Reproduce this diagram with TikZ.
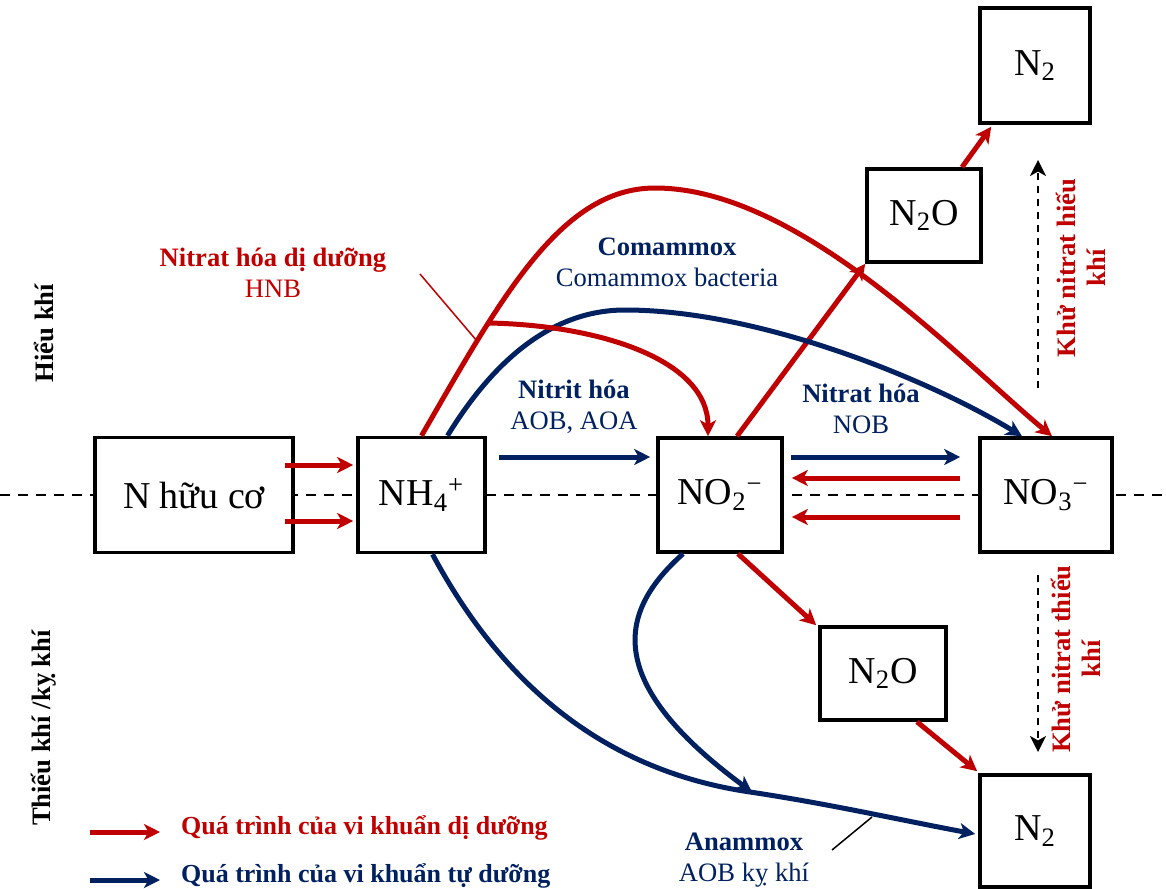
\documentclass[tikz,border=0pt]{standalone}
\usepackage{fontspec}
\setmainfont{Liberation Serif}
\usetikzlibrary{arrows.meta,calc}
\definecolor{hred}{HTML}{C00000}
\definecolor{hblue}{HTML}{002060}

\begin{document}
\begin{tikzpicture}[x=0.5pt,y=-0.5pt,>={Stealth[length=8pt,width=8pt,inset=2.2pt]},
  box/.style 2 args={draw,line width=1.8pt,fill=white,minimum width=#1,minimum height=#2,
              inner sep=0pt,font=\fontsize{19}{22}\selectfont},
  redarr/.style={->,line width=2.5pt,draw=hred},
  bluearr/.style={->,line width=2.5pt,draw=hblue},
  lbl/.style={font=\fontsize{13.3}{15.5}\selectfont,align=center},
  side/.style={lbl,rotate=90,font=\fontsize{13.3}{15}\selectfont\bfseries}]

\useasboundingbox (0,0) rectangle (1166,888);

% aerobic / anoxic border
\draw[line width=1pt,dash pattern=on 5pt off 4pt] (0,495) -- (1166,495);

\node[box={99pt}{57.5pt}] (org) at (194,495) {N hữu cơ};
\node[box={63.5pt}{57.5pt}] (nh) at (421.5,495) {NH\textsubscript{4}\textsuperscript{+}};
\node[box={62pt}{57pt}] (no2) at (720,495) {NO\textsubscript{2}\textsuperscript{−}};
\node[box={66pt}{57pt}] (no3) at (1046,495) {NO\textsubscript{3}\textsuperscript{−}};
\node[box={55pt}{57.5pt}] (n2a) at (1035,65.5) {N\textsubscript{2}};
\node[box={57pt}{46.5pt}] (n2oa) at (924,215.5) {N\textsubscript{2}O};
\node[box={63pt}{46.5pt}] (n2ob) at (883,673.5) {N\textsubscript{2}O};
\node[box={55pt}{56pt}] (n2b) at (1035,831) {N\textsubscript{2}};

% straight processes
\draw[redarr] ($(org.east)+(-10,-30)$) -- ($(nh.west)+(-3,-30)$);
\draw[redarr] ($(org.east)+(-10,26)$) -- ($(nh.west)+(-3,26)$);
\draw[bluearr] ($(nh.east)+(12,-38)$) -- ($(no2.west)+(-6,-38)$);
\draw[bluearr] ($(no2.east)+(7,-38)$) -- ($(no3.west)+(-18,-38)$);
\draw[redarr] ($(no3.west)+(-18,-17)$) -- ($(no2.east)+(8,-17)$);
\draw[redarr] ($(no3.west)+(-18,22)$) -- ($(no2.east)+(8,22)$);
\draw[redarr] ($(no2.north)+(17,0)$) -- (n2oa.south west);
\draw[redarr] ($(n2oa.north)+(38,0)$) -- ($(n2a.south west)+(13,2)$);
\draw[redarr] ($(no2.south)+(18,0)$) -- ($(n2ob.north west)+(-2,0)$);
\draw[redarr] ($(n2ob.south)+(34,0)$) -- ($(n2b.north west)+(-1,-2)$);

% curved processes
\coordinate (hnb) at (488,323);
\coordinate (amx) at (752,792);
\draw[redarr] (nh.north) .. controls (500,300) and (560,188) .. (655,188)
  .. controls (800,188) and (960,360) .. ($(no3.north)+(6,0)$);
\draw[bluearr] ($(nh.north)+(26,0)$) .. controls (500,350) and (560,310) .. (625,310)
  .. controls (760,310) and (930,380) .. ($(no3.north)+(-24,0)$);
\draw[redarr] (hnb) .. controls (600,325) and (708,360) .. ($(no2.north)+(-12,0)$);
\draw[bluearr] ($(no2.south)+(-37,0)$) .. controls (620,610) and (600,680) .. (amx);
\draw[bluearr] ($(nh.south)+(11,0)$) .. controls (500,680) and (600,770) .. (750,792)
  .. controls (830,804) and (900,820) .. ($(n2b.west)+(-3,3)$);

% labels
\node[lbl,text=hred] (hnbl) at (273,273) {\textbf{Nitrat hóa dị dưỡng}\\HNB};
\draw[hred,line width=0.75pt] (420,274) -- (477,341);
\node[lbl,text=hblue] (coml) at (667,262) {\textbf{Comammox}\\Comammox bacteria};
\node[lbl,text=hblue] (nitl) at (574,407) {\textbf{Nitrit hóa}\\AOB, AOA};
\node[lbl,text=hblue] (natl) at (861,409) {\textbf{Nitrat hóa}\\NOB};
\node[lbl,text=hblue] (amxl) at (744,860) {\textbf{Anammox}\\AOB kỵ khí};
\draw[line width=0.75pt] (832,850) -- (872,817);

% denitrification
\coordinate (dtop) at (1038,388);
\coordinate (dbot) at (1038,575);
\draw[->,line width=1pt,dash pattern=on 3.5pt off 3pt] (dtop) -- (1038,160);
\draw[->,line width=1pt,dash pattern=on 3.5pt off 3pt] (dbot) -- (1038,752);
\node[side,text=hred] (dnh) at (1081,268) {Khử nitrat hiếu\\khí};
\node[side,text=hred] (dnt) at (1076,659) {Khử nitrat thiếu\\khí};

\node[side] (aer) at (44,333) {Hiểu khí};
\node[side] (anx) at (44,728) {Thiếu khí /kỵ khí};

% legend
\node[lbl,anchor=west,text=hred,font=\fontsize{13}{15.5}\selectfont\bfseries] (lgr) at (174,828) {Quá trình của vi khuẩn dị dưỡng};
\node[lbl,anchor=west,text=hblue,font=\fontsize{13}{15.5}\selectfont\bfseries] (lgb) at (174,876) {Quá trình của vi khuẩn tự dưỡng};
\draw[redarr] ($(lgr.west)+(-84,4)$) -- ($(lgr.west)+(-14,4)$);
\draw[bluearr] ($(lgb.west)+(-84,4)$) -- ($(lgb.west)+(-14,4)$);
\end{tikzpicture}
\end{document}
